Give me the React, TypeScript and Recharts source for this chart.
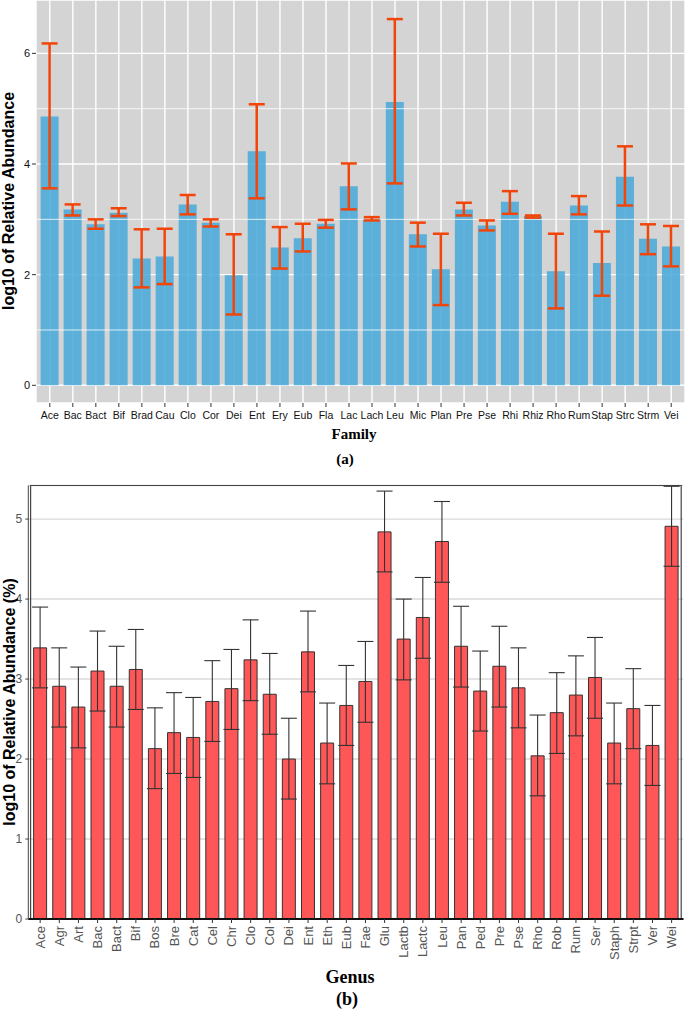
import { BarChart, Bar, XAxis, YAxis, CartesianGrid, ErrorBar, ReferenceLine, ReferenceArea } from 'recharts'

// (a) family level
const familyNames = ['Ace', 'Bac', 'Bact', 'Bif', 'Brad', 'Cau', 'Clo', 'Cor', 'Dei', 'Ent', 'Ery', 'Eub', 'Fla', 'Lac', 'Lach', 'Leu', 'Mic', 'Plan', 'Pre', 'Pse', 'Rhi', 'Rhiz', 'Rho', 'Rum', 'Stap', 'Strc', 'Strm', 'Vei']
const familyMean = [4.86, 3.18, 2.91, 3.12, 2.29, 2.33, 3.27, 2.94, 1.99, 4.23, 2.49, 2.66, 2.92, 3.6, 3.01, 5.12, 2.73, 2.1, 3.18, 2.89, 3.32, 3.06, 2.06, 3.25, 2.21, 3.77, 2.65, 2.51]
const familyLow = [3.56, 3.07, 2.83, 3.06, 1.77, 1.83, 3.09, 2.87, 1.28, 3.38, 2.11, 2.42, 2.85, 3.18, 2.98, 3.65, 2.51, 1.45, 3.07, 2.8, 3.1, 3.03, 1.39, 3.09, 1.62, 3.25, 2.37, 2.15]
const familyHigh = [6.18, 3.27, 3.0, 3.2, 2.82, 2.83, 3.44, 3.0, 2.73, 5.08, 2.86, 2.92, 2.99, 4.01, 3.04, 6.62, 2.94, 2.74, 3.3, 2.98, 3.51, 3.07, 2.74, 3.42, 2.78, 4.32, 2.91, 2.88]
const familyTicks = [0, 2, 4, 6]
const familyMinor = [1, 3, 5]

// (b) genus level
const genusNames = ['Ace', 'Agr', 'Art', 'Bac', 'Bact', 'Bif', 'Bos', 'Bre', 'Cat', 'Cel', 'Chr', 'Clo', 'Col', 'Dei', 'Ent', 'Eth', 'Eub', 'Fae', 'Glu', 'Lactb', 'Lactc', 'Leu', 'Pan', 'Ped', 'Pre', 'Pse', 'Rho', 'Rob', 'Rum', 'Ser', 'Staph', 'Strpt', 'Ver', 'Wei']
const genusMean = [3.39, 2.91, 2.65, 3.1, 2.91, 3.12, 2.13, 2.33, 2.27, 2.72, 2.88, 3.24, 2.81, 2.0, 3.34, 2.2, 2.67, 2.97, 4.84, 3.5, 3.77, 4.72, 3.41, 2.85, 3.16, 2.89, 2.04, 2.58, 2.8, 3.02, 2.2, 2.63, 2.17, 4.91]
const genusLow = [2.89, 2.4, 2.14, 2.6, 2.4, 2.62, 1.63, 1.82, 1.77, 2.22, 2.37, 2.73, 2.31, 1.5, 2.84, 1.69, 2.17, 2.46, 4.34, 2.99, 3.26, 4.21, 2.9, 2.35, 2.65, 2.39, 1.54, 2.07, 2.29, 2.51, 1.69, 2.13, 1.67, 4.41]
const genusHigh = [3.9, 3.39, 3.15, 3.6, 3.41, 3.62, 2.64, 2.83, 2.77, 3.23, 3.37, 3.74, 3.32, 2.51, 3.85, 2.7, 3.17, 3.47, 5.35, 4.0, 4.27, 5.22, 3.91, 3.35, 3.66, 3.39, 2.55, 3.08, 3.29, 3.52, 2.7, 3.13, 2.67, 5.41]
const genusTicks = [0, 1, 2, 3, 4, 5]

const familyData = familyNames.map((name, i) => ({
  name,
  value: familyMean[i],
  err: [familyMean[i] - familyLow[i], familyHigh[i] - familyMean[i]],
}))

const genusData = genusNames.map((name, i) => ({
  name,
  value: genusMean[i],
  err: [genusMean[i] - genusLow[i], genusHigh[i] - genusMean[i]],
}))

const sans = 'Liberation Sans, Arial, sans-serif'
const serif = 'Liberation Serif, Times New Roman, serif'

function GenusTick(props: any) {
  const { x, y, payload } = props
  return (
    <text
      x={x}
      y={y}
      transform={`rotate(-90 ${x} ${y})`}
      textAnchor="end"
      dominantBaseline="central"
      fontSize={13}
      fontFamily={sans}
      fill="#555"
    >
      {payload.value}
    </text>
  )
}

function VLabel({ text, cx, cy, size }: { text: string; cx: number; cy: number; size: number }) {
  const w = 320
  return (
    <div
      style={{
        position: 'absolute',
        left: cx - w / 2,
        top: cy - size / 2,
        width: w,
        height: size,
        lineHeight: `${size}px`,
        textAlign: 'center',
        transform: 'rotate(-90deg)',
        fontFamily: sans,
        fontWeight: 'bold',
        fontSize: size,
        color: '#000',
        whiteSpace: 'nowrap',
      }}
    >
      {text}
    </div>
  )
}

function Caption({ text, cx, cy, size }: { text: string; cx: number; cy: number; size: number }) {
  const w = 200
  return (
    <div
      style={{
        position: 'absolute',
        left: cx - w / 2,
        top: cy - size / 2,
        width: w,
        height: size,
        lineHeight: `${size}px`,
        textAlign: 'center',
        fontFamily: serif,
        fontWeight: 'bold',
        fontSize: size,
        color: '#000',
      }}
    >
      {text}
    </div>
  )
}

export default function App() {
  return (
    <div style={{ position: 'absolute', left: 0, top: 0, width: 685, height: 1011, background: '#fff', overflow: 'hidden' }}>
      <div style={{ position: 'absolute', left: 0, top: 0 }}>
        <BarChart width={685} height={433} data={familyData} margin={{ top: 0, right: 0, left: 0, bottom: 0 }} barCategoryGap="10%">
          <CartesianGrid fill="#d4d4d4" stroke="#fff" strokeWidth={1.4} />
          {familyMinor.map((v) => (
            <ReferenceLine key={v} y={v} stroke="#fff" strokeWidth={0.8} />
          ))}
          <XAxis
            dataKey="name"
            interval={0}
            height={30}
            padding={{ left: 2.3, right: 2.3 }}
            axisLine={false}
            tickSize={4}
            tickMargin={5}
            tickLine={{ stroke: '#333' }}
            tick={{ fontSize: 10.5, fontFamily: sans, fill: '#111' }}
          />
          <YAxis
            type="number"
            domain={[-0.32, 6.965]}
            ticks={familyTicks}
            width={36}
            axisLine={false}
            tickSize={4}
            tickMargin={2}
            tickLine={{ stroke: '#333' }}
            tick={{ fontSize: 11, fontFamily: sans, fill: '#111' }}
          />
          <Bar dataKey="value" fill="#4aaad8" fillOpacity={0.88} isAnimationActive={false}>
            <ErrorBar dataKey="err" width={8} stroke="#f2450a" strokeWidth={2.5} isAnimationActive={false} />
          </Bar>
        </BarChart>
      </div>
      <VLabel text="log10 of Relative Abundance" cx={8.5} cy={201} size={16} />
      <Caption text="Family" cx={354} cy={434} size={15} />
      <Caption text="(a)" cx={345} cy={459} size={15} />

      <div style={{ position: 'absolute', left: 0, top: 470 }}>
        <BarChart width={685} height={500} data={genusData} margin={{ top: 15.5, right: 1.5, left: 0, bottom: 0 }} barSize={13}>
          <CartesianGrid vertical={false} stroke="#dadada" strokeWidth={1.4} />
          <ReferenceArea y1={0} y2={5.42} fill="none" stroke="#444" strokeWidth={1.2} ifOverflow="extendDomain" />
          <XAxis
            dataKey="name"
            interval={0}
            height={51}
            padding={{ left: 2.3, right: 2.3 }}
            axisLine={{ stroke: '#111', strokeWidth: 2 }}
            tickSize={4}
            tickMargin={3}
            tickLine={{ stroke: '#333' }}
            tick={<GenusTick />}
          />
          <YAxis
            type="number"
            domain={[0, 5.42]}
            ticks={genusTicks}
            width={28.3}
            axisLine={{ stroke: '#444' }}
            tickSize={3}
            tickMargin={3}
            tickLine={{ stroke: '#444' }}
            tick={{ fontSize: 12, fontFamily: sans, fill: '#555' }}
          />
          <Bar dataKey="value" fill="#ff5757" stroke="#333" strokeWidth={1} isAnimationActive={false}>
            <ErrorBar dataKey="err" width={8} stroke="#333" strokeWidth={1.1} isAnimationActive={false} />
          </Bar>
        </BarChart>
      </div>
      <VLabel text="log10 of Relative Abundance (%)" cx={9.5} cy={702} size={16} />
      <Caption text="Genus" cx={350} cy={977} size={18} />
      <Caption text="(b)" cx={347} cy={999} size={18} />
    </div>
  )
}
